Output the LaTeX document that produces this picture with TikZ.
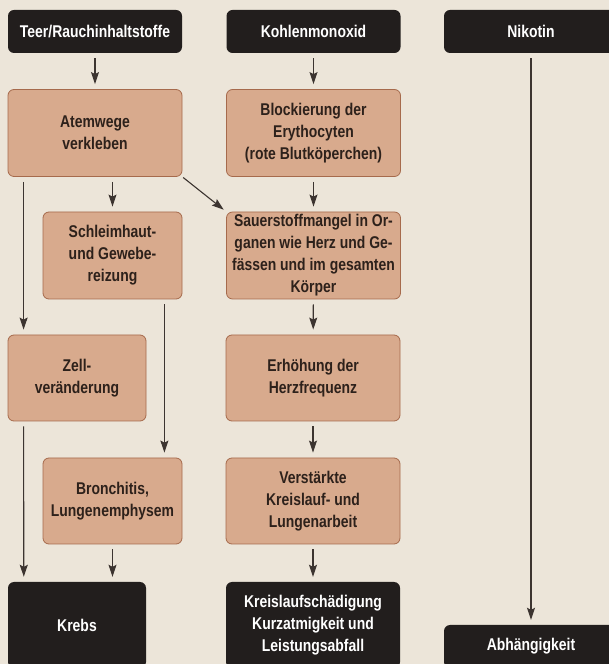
\documentclass[tikz,border=0pt]{standalone}
\usepackage{fontspec}
\setmainfont{Liberation Sans}[FakeStretch=0.82]
\usepackage{tikz}
\usetikzlibrary{arrows.meta}
\usepackage{xcolor}
\definecolor{papier}{RGB}{236,229,217}
\definecolor{hell}{RGB}{216,170,141}
\definecolor{rand}{RGB}{166,106,76}
\definecolor{dunkel}{RGB}{34,30,29}
\definecolor{schrift}{RGB}{45,33,27}
\definecolor{linie}{RGB}{60,52,48}

\begin{document}
\begin{tikzpicture}[x=1pt,y=1pt,
		box/.style={draw=rand,line width=0.8pt,fill=hell,rounded corners=6pt,text=schrift,align=center,inner sep=2pt,font=\fontsize{17}{22}\selectfont\bfseries,minimum width=174pt,minimum height=87pt},
		kopf/.style={fill=dunkel,rounded corners=6pt,text=white,align=center,inner sep=2pt,font=\fontsize{17}{22}\selectfont\bfseries,minimum width=174pt,minimum height=43pt},
		pfeil/.style={draw=linie,line width=1.1pt,-{Stealth[length=12pt,width=8pt,inset=2pt]},shorten <=5pt,shorten >=5pt}]
	\fill[papier] (0,0) rectangle (609,664);
	\clip (0,0) rectangle (609,664);
	\node[kopf] (teer) at (95,632.5) {Teer/Rauchinhaltstoffe};
	\node[kopf] (kohlen) at (313.5,632.5) {Kohlenmonoxid};
	\node[kopf] (nikotin) at (531,632.5) {Nikotin};
	\node[box] (atem) at (95,531) {Atemwege\\verkleben};
	\node[box] (block) at (313.5,531) {Blockierung der\\Erythocyten\\(rote Blutköperchen)};
	\node[box,minimum width=139pt] (schleim) at (112.5,408.5) {Schleimhaut-\\und Gewebe-\\reizung};
	\node[box] (sauer) at (313.5,408.5) {Sauerstoffmangel in Or-\\ganen wie Herz und Ge-\\fässen und im gesamten\\Körper};
	\node[box,minimum width=138pt,minimum height=86pt] (zell) at (77,286) {Zell-\\veränderung};
	\node[box,minimum height=86pt] (erh) at (313,286) {Erhöhung der\\Herzfrequenz};
	\node[box,minimum width=139pt,minimum height=86pt] (bronch) at (112.5,163) {Bronchitis,\\Lungenemphysem};
	\node[box,minimum height=86pt] (verst) at (313,163) {Verstärkte\\Kreislauf- und\\Lungenarbeit};
	\node[kopf,minimum width=138pt,minimum height=86pt] (krebs) at (77,39) {Krebs};
	\node[kopf,minimum height=86pt] (kreis) at (313,39) {Kreislaufschädigung\\Kurzatmigkeit und\\Leistungsabfall};
	\node[kopf] (abh) at (531,17.5) {Abhängigkeit};
	\draw[pfeil] (teer) -- (atem);
	\draw[pfeil] (kohlen) -- (block);
	\draw[pfeil] (nikotin) -- (abh);
	\draw[pfeil] (schleim.north |- atem.south) -- (schleim.north);
	\draw[pfeil,shorten <=1pt,shorten >=3pt] (atem.south east) -- (sauer.north west);
	\draw[pfeil] (block) -- (sauer);
	\draw[pfeil] ([xshift=16pt]atem.south west) -- ([xshift=16pt]zell.north west);
	\draw[pfeil] ([xshift=-18pt]schleim.south east) -- ([xshift=-18pt]bronch.north east);
	\draw[pfeil] (sauer) -- (erh);
	\draw[pfeil] ([xshift=16pt]zell.south west) -- ([xshift=16pt]krebs.north west);
	\draw[pfeil] (bronch.south) -- (bronch.south |- krebs.north);
	\draw[pfeil] (erh) -- (verst);
	\draw[pfeil] (verst) -- (kreis);
\end{tikzpicture}
\end{document}
